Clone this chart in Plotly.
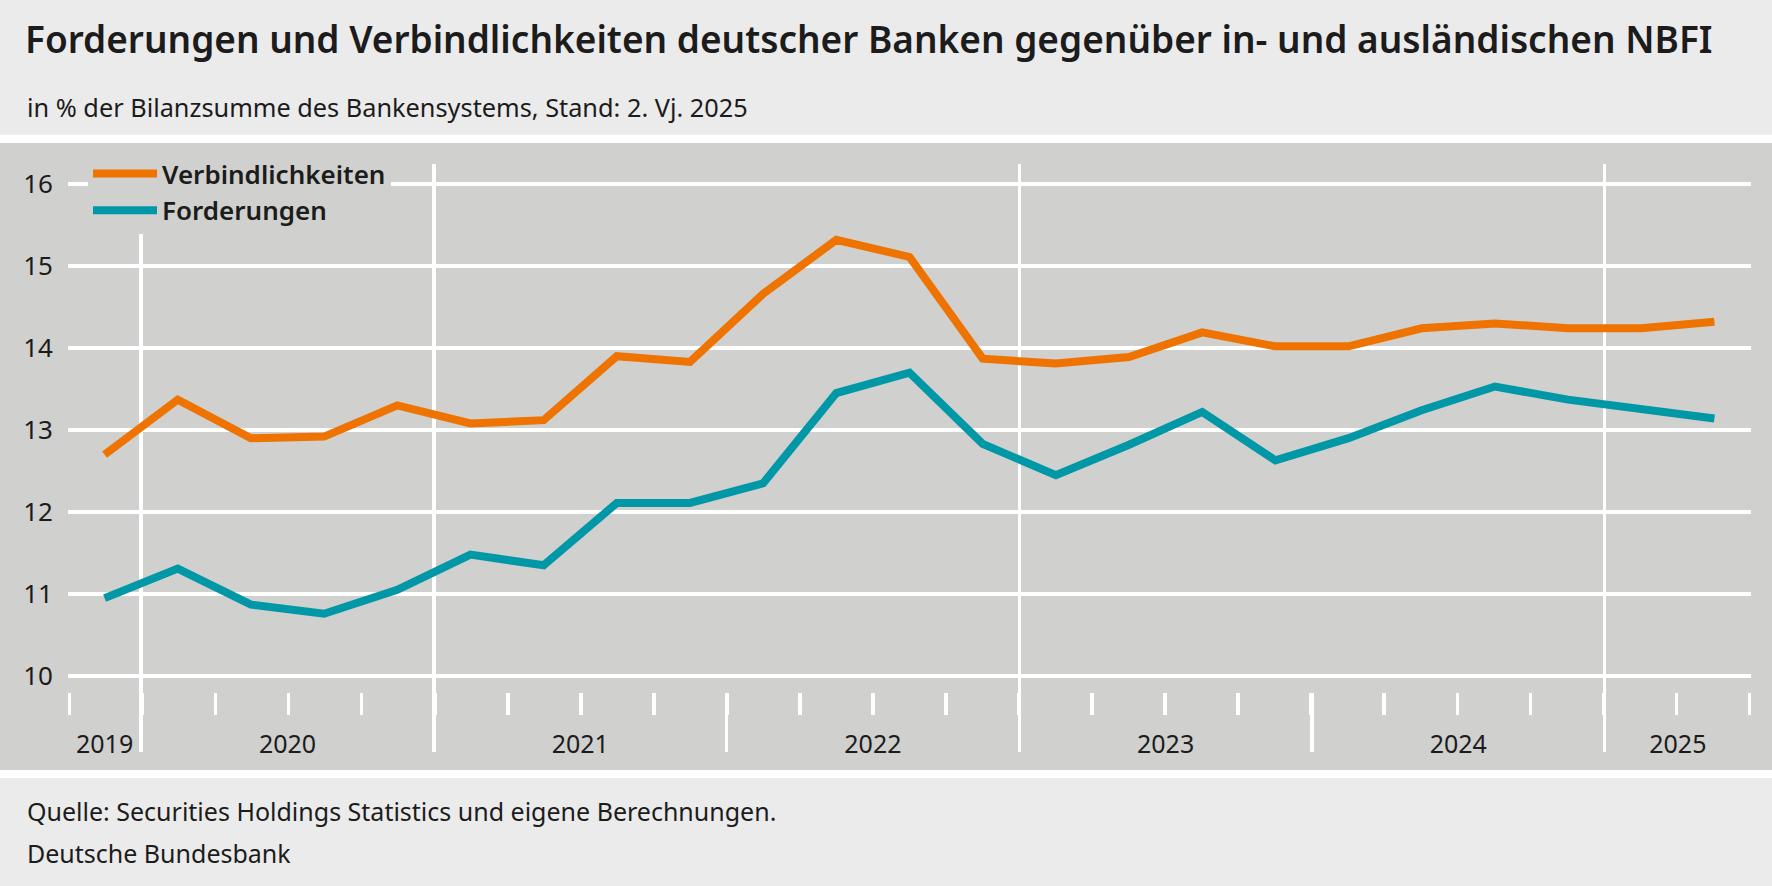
import plotly.graph_objects as go

# ---------------- data ----------------
quarters = ["2019Q4",
            "2020Q1", "2020Q2", "2020Q3", "2020Q4",
            "2021Q1", "2021Q2", "2021Q3", "2021Q4",
            "2022Q1", "2022Q2", "2022Q3", "2022Q4",
            "2023Q1", "2023Q2", "2023Q3", "2023Q4",
            "2024Q1", "2024Q2", "2024Q3", "2024Q4",
            "2025Q1", "2025Q2"]
verbindlichkeiten = [12.70, 13.37, 12.90, 12.92, 13.30, 13.08, 13.12, 13.90, 13.83,
                     14.66, 15.32, 15.11, 13.87, 13.81, 13.89, 14.19, 14.02, 14.02,
                     14.24, 14.30, 14.24, 14.24, 14.32]
forderungen = [10.95, 11.31, 10.87, 10.76, 11.05, 11.48, 11.35, 12.11, 12.11,
               12.35, 13.45, 13.70, 12.83, 12.45, 12.82, 13.22, 12.63, 12.90,
               13.24, 13.53, 13.37, 13.26, 13.14]
y_ticks = [10, 11, 12, 13, 14, 15, 16]
years = ["2019", "2020", "2021", "2022", "2023", "2024", "2025"]
years_with_gridline = ["2020", "2021", "2023", "2025"]

title = "Forderungen und Verbindlichkeiten deutscher Banken gegenüber in- und ausländischen NBFI"
subtitle = "in % der Bilanzsumme des Bankensystems, Stand: 2. Vj. 2025"
source = "Quelle: Securities Holdings Statistics und eigene Berechnungen."
publisher = "Deutsche Bundesbank"

# ---------------- derived positions (library scale units) ----------------
x = list(range(len(quarters)))
qyear = [q[:4] for q in quarters]
year_centers = [sum(i for i, y in enumerate(qyear) if y == yr) / qyear.count(yr) for yr in years]
year_starts = {yr: min(i for i, y in enumerate(qyear) if y == yr) - 0.5 for yr in years}
boundaries = [i - 0.5 for i in range(len(quarters) + 1)]
grid_b = [year_starts[yr] for yr in years_with_gridline]
long_b = [year_starts[yr] for yr in years if yr != years[0] and yr not in years_with_gridline]

# ---------------- style ----------------
W, H = 1772, 886
ML, MR, MT, MB = 68, 21, 164, 134
PH = H - MT - MB
FONT = "Noto Sans"
ORANGE = "#ef7300"
TEAL = "#0098a6"
PANEL = "#d0d0ce"
HEAD = "#ebebeb"
TXT = "#1c1c1c"


def py(pix):
    """pixel row -> paper y"""
    return (H - MB - pix) / PH


def px(pix):
    return (pix - ML) / (W - ML - MR)


y_lo = 10 - (H - MB - 676) / 82.0
y_hi = 16 + (184 - MT) / 82.0
xr = [-0.5, len(quarters) - 0.5]
xr_ticks = [xr[0] - 0.022, xr[1] + 0.022]   # small pad so the edge ticks are not dropped

fig = go.Figure()
fig.add_trace(go.Scatter(x=x, y=verbindlichkeiten, mode="lines", name="Verbindlichkeiten",
                         line=dict(color=ORANGE, width=8)))
fig.add_trace(go.Scatter(x=x, y=forderungen, mode="lines", name="Forderungen",
                         line=dict(color=TEAL, width=8)))
# empty helper traces so that the auxiliary x axes (quarter ticks, year labels) are drawn
fig.add_trace(go.Scatter(x=[], y=[], xaxis="x2", showlegend=False, hoverinfo="skip"))
fig.add_trace(go.Scatter(x=[], y=[], xaxis="x3", showlegend=False, hoverinfo="skip"))

shapes = [
    dict(type="rect", xref="paper", yref="paper", x0=-1, x1=2, y0=py(-5), y1=py(135),
         fillcolor=HEAD, line=dict(width=0), layer="below"),
    dict(type="rect", xref="paper", yref="paper", x0=-1, x1=2, y0=py(143), y1=py(770),
         fillcolor=PANEL, line=dict(width=0), layer="below"),
    dict(type="rect", xref="paper", yref="paper", x0=-1, x1=2, y0=py(778), y1=py(H + 5),
         fillcolor=HEAD, line=dict(width=0), layer="below"),
]

annotations = [
    dict(text=subtitle, xref="paper", yref="paper", x=px(25), y=py(107), xanchor="left",
         yanchor="middle", showarrow=False, font=dict(family=FONT, size=25.3, color=TXT)),
    dict(text=source, xref="paper", yref="paper", x=px(25), y=py(811), xanchor="left",
         yanchor="middle", showarrow=False, font=dict(family=FONT, size=25, color=TXT)),
    dict(text=publisher, xref="paper", yref="paper", x=px(25), y=py(853), xanchor="left",
         yanchor="middle", showarrow=False, font=dict(family=FONT, size=25, color=TXT)),
]

fig.update_layout(
    width=W, height=H,
    margin=dict(l=ML, r=MR, t=MT, b=MB, pad=0),
    paper_bgcolor="white",
    plot_bgcolor="rgba(0,0,0,0)",
    title=dict(text=title, x=25 / W, xref="container", xanchor="left",
               y=1 - 40 / H, yref="container", yanchor="middle",
               font=dict(family=FONT, size=37, color=TXT, weight=600)),
    shapes=shapes,
    annotations=annotations,
    showlegend=True,
    hovermode=False,
    legend=dict(x=px(88), y=py(150), xanchor="left", yanchor="top",
                bgcolor=PANEL, borderwidth=0, itemwidth=64,
                font=dict(family=FONT, size=26, color=TXT, weight=600),
                tracegroupgap=0, itemclick=False, itemdoubleclick=False),
    xaxis=dict(range=xr, showline=False, zeroline=False, showticklabels=False,
               tickmode="array", tickvals=grid_b, ticks="",
               showgrid=True, gridcolor="white", gridwidth=3.5,
               minor=dict(tickmode="array", tickvals=long_b, ticks="inside", ticklen=59,
                          tickwidth=3.5, tickcolor="white", showgrid=False)),
    xaxis2=dict(range=xr_ticks, overlaying="x", anchor="free", position=py(715), side="bottom",
                showline=False, zeroline=False, showgrid=False, showticklabels=False,
                tickmode="array", tickvals=boundaries, ticks="inside", ticklen=22,
                tickwidth=3.5, tickcolor="white"),
    xaxis3=dict(range=xr, overlaying="x", anchor="free", position=py(727), side="bottom",
                showline=False, zeroline=False, showgrid=False, ticks="",
                tickmode="array", tickvals=year_centers, ticktext=years,
                tickfont=dict(family=FONT, size=25, color=TXT)),
    yaxis=dict(range=[y_lo, y_hi], tickmode="array", tickvals=y_ticks,
               showgrid=True, gridcolor="white", gridwidth=3.5, zeroline=False,
               showline=False, ticks="", ticklabelstandoff=14,
               tickfont=dict(family=FONT, size=26, color=TXT)),
)

fig.write_html("out.html", config={"displayModeBar": False, "staticPlot": True},
               post_script="document.body.style.margin='0';document.body.style.overflow='hidden';")
